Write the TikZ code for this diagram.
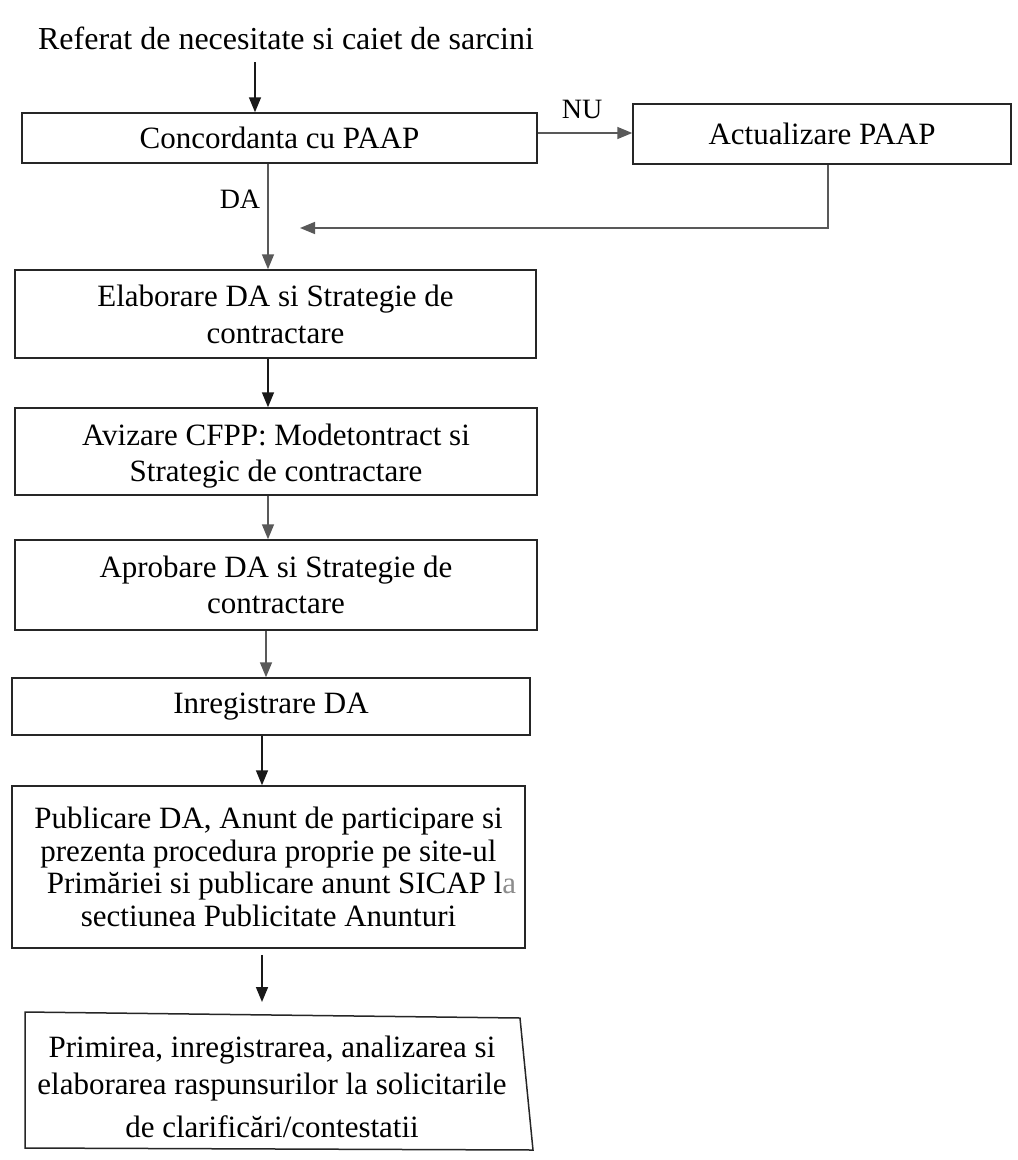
\documentclass[tikz,border=0pt]{standalone}
\usepackage{fontspec}
\setmainfont{Liberation Serif}
\usetikzlibrary{arrows.meta}
\newcommand\diafont{\fontsize{31}{36}\selectfont}
\begin{document}
\begin{tikzpicture}[x=1pt,y=-1pt,
  box/.style={draw=black!85, line width=1.5pt, inner sep=0pt, align=center, font=\diafont},
  plain/.style={inner sep=0pt, align=center, font=\diafont},
  lbl/.style={inner sep=0pt, font=\fontsize{28}{30}\selectfont},
  arrblack/.style={draw=black!90, line width=1.6pt, -{Triangle[length=15pt,width=12pt]}},
  arrgrey/.style={draw=black!65, line width=1.6pt, -{Triangle[length=15pt,width=12pt]}},
  frame/.style={draw=black!85, line width=1.5pt}]
\useasboundingbox (0,0) rectangle (1018,1160);
\fill[white] (0,0) rectangle (1018,1160);

% nodes
\node[plain, font=\fontsize{32}{36}\selectfont] (title) at (286,38) {Referat de necesitate si caiet de sarcini};
\node[box, minimum width=515pt, minimum height=50pt] (conc) at (279.5,138) {Concordanta cu PAAP};
\node[box, minimum width=378pt, minimum height=60pt] (act) at (822,134) {Actualizare PAAP};
\node[box, minimum width=521pt, minimum height=88pt, font=\fontsize{31}{37}\selectfont] (elab) at (275.5,314)
  {Elaborare DA si Strategie de\\contractare};
\node[box, minimum width=522pt, minimum height=87pt] (aviz) at (276,451.5)
  {\rule{0pt}{30pt}Avizare CFPP: Modetontract si\\Strategic de contractare};
\node[box, minimum width=522pt, minimum height=90pt] (aprob) at (276,585)
  {Aprobare DA si Strategie de\\contractare};
\node[box, minimum width=518pt, minimum height=57pt] (inreg) at (271,706.5) {Inregistrare DA};
\node[box, minimum width=513pt, minimum height=162pt, font=\fontsize{31}{32.5}\selectfont] (pub) at (268.5,867)
  {Publicare DA, Anunt de participare si\\
   prezenta procedura proprie pe site-ul\\
   \hspace*{26pt}Primăriei si publicare anunt SICAP l\textcolor{black!45}{a}\\
   sectiunea Publicitate Anunturi};
\node[plain, font=\fontsize{31}{37}\selectfont] (prim) at (272,1087)
  {Primirea, inregistrarea, analizarea si\\
   elaborarea raspunsurilor la solicitarile\\[6pt]
   de clarificări/contestatii};

% free coordinates
\coordinate (p1) at (25,1012);
\coordinate (p2) at (520,1018);
\coordinate (p3) at (533,1150);
\coordinate (p4) at (25,1148);
\coordinate (x1) at (255,0);
\coordinate (x2) at (268,0);
\coordinate (x3) at (266,0);
\coordinate (x4) at (262,0);
\coordinate (nuy) at (0,133);
\coordinate (fbx) at (828,0);
\coordinate (fbend) at (300,228);
\coordinate (tstart) at (255,62);
\coordinate (pend) at (262,1002);

% last box outline
\draw[frame] (p1) -- (p2) -- (p3) -- (p4) -- cycle;

% connectors
\draw[arrblack] (tstart) -- (conc.north -| x1);
\draw[arrgrey] (conc.east |- nuy) -- (act.west |- nuy);
\node[lbl] (nu) at (582,109) {NU};
\draw[arrgrey] (act.south -| fbx) |- (fbend);
\draw[arrgrey] (conc.south -| x2) -- (elab.north -| x2);
\node[lbl] (da) at (240,199) {DA};
\draw[arrblack] (elab.south -| x2) -- (aviz.north -| x2);
\draw[arrgrey] (aviz.south -| x2) -- (aprob.north -| x2);
\draw[arrgrey] (aprob.south -| x3) -- (inreg.north -| x3);
\draw[arrblack] (inreg.south -| x4) -- (pub.north -| x4);
\draw[arrblack] ([yshift=-6pt]pub.south -| x4) -- (pend);
\end{tikzpicture}
\end{document}
